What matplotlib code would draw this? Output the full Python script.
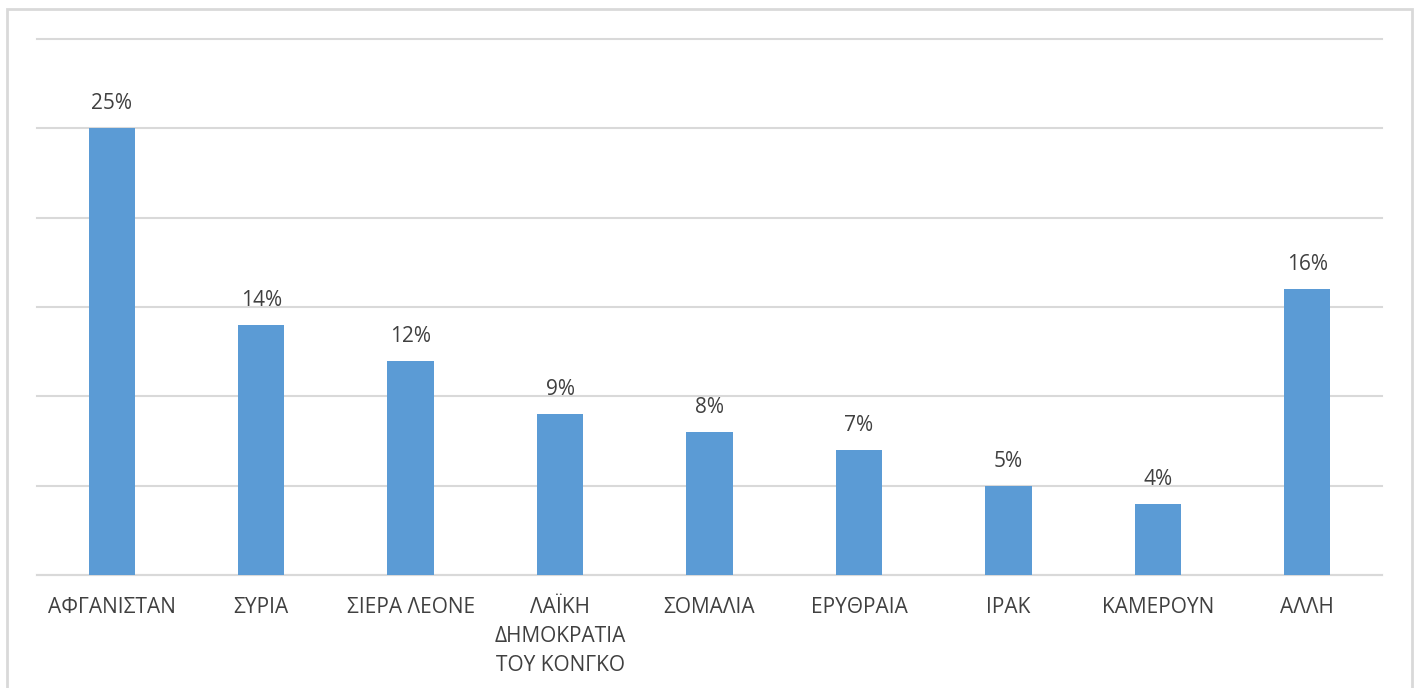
import matplotlib
matplotlib.use("Agg")
import matplotlib.pyplot as plt
from matplotlib.patches import Rectangle

categories = ["ΑΦΓΑΝΙΣΤΑΝ", "ΣΥΡΙΑ", "ΣΙΕΡΑ ΛΕΟΝΕ", "ΛΑΪΚΗ\nΔΗΜΟΚΡΑΤΙΑ\nΤΟΥ ΚΟΝΓΚΟ",
              "ΣΟΜΑΛΙΑ", "ΕΡΥΘΡΑΙΑ", "ΙΡΑΚ", "ΚΑΜΕΡΟΥΝ", "ΑΛΛΗ"]
values = [25, 14, 12, 9, 8, 7, 5, 4, 16]
labels = ["25%", "14%", "12%", "9%", "8%", "7%", "5%", "4%", "16%"]

W, H = 1421, 688
fig = plt.figure(figsize=(W / 100, H / 100), dpi=100)
plt.rcParams['font.family'] = ['Open Sans', 'DejaVu Sans']

ax = fig.add_axes([37 / W, 1 - 575 / H, (1382 - 37) / W, (575 - 39) / H])
x = list(range(len(categories)))
ax.bar(x, values, width=0.31, color="#5B9BD5", zorder=3)
ax.set_xlim(-0.5, len(categories) - 0.5)
ax.set_ylim(0, 30)
ax.set_yticks([0, 5, 10, 15, 20, 25, 30])
ax.set_yticklabels([])
ax.tick_params(axis='y', length=0)
ax.grid(axis='y', color="#d9d9d9", linewidth=1.5, zorder=0)
for gl in ax.get_ygridlines():
    gl.set_clip_on(False)
for s in ["top", "right", "left"]:
    ax.spines[s].set_visible(False)
ax.spines["bottom"].set_color("#d9d9d9")
ax.spines["bottom"].set_linewidth(1.5)
ax.set_xticks(x)
ax.set_xticklabels(categories, fontsize=15, color="#404040", linespacing=1.5)
ax.tick_params(axis='x', length=0, pad=16)

for xi, v, lab in zip(x, values, labels):
    ax.annotate(lab, (xi, v), xytext=(0, 10), textcoords="offset points",
                ha="center", va="bottom", fontsize=15, color="#404040")

fig.patches.append(Rectangle((7 / W, -0.05), (1412 - 7) / W, 1.05 - 9 / H,
                             transform=fig.transFigure, fill=False,
                             edgecolor="#d9d9d9", linewidth=2))

fig.savefig("out.png", dpi=100)
